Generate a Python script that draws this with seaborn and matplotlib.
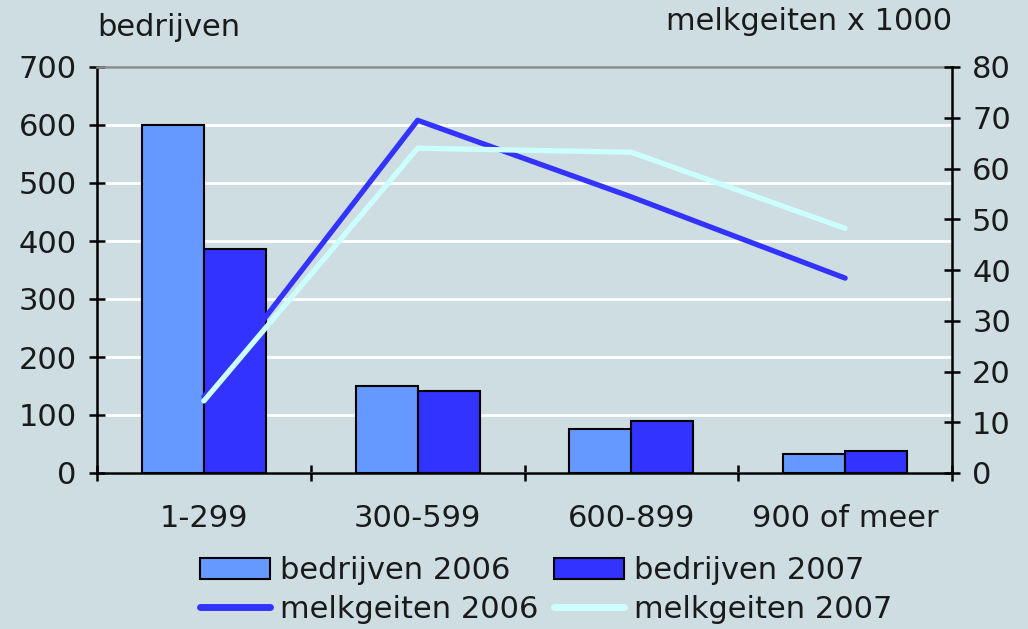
import matplotlib
matplotlib.use("Agg")
import matplotlib.pyplot as plt
import seaborn as sns
import pandas as pd
import numpy as np
from matplotlib.patches import Patch
from matplotlib.lines import Line2D

categories = ["1-299", "300-599", "600-899", "900 of meer"]
bedrijven_2006 = [600, 150, 76, 33]
bedrijven_2007 = [387, 141, 90, 38]
melkgeiten_2006 = [15.0, 69.5, 54.4, 38.4]
melkgeiten_2007 = [14.2, 64.0, 63.2, 48.2]
left_ticks = [0, 100, 200, 300, 400, 500, 600, 700]
right_ticks = [0, 10, 20, 30, 40, 50, 60, 70, 80]

BG = "#cddde2"
C_LIGHT = "#6699ff"
C_DARK = "#3333ff"
C_CYAN = "#ccffff"
TXT = "#1a1a1a"
FS = 22

sns.set_theme(style="white")
plt.rcParams["font.family"] = ["DejaVu Sans"]

bars = pd.DataFrame({
    "cat": categories * 2,
    "val": bedrijven_2006 + bedrijven_2007,
    "serie": ["bedrijven 2006"] * 4 + ["bedrijven 2007"] * 4,
})
pos = list(range(len(categories)))
lines = pd.DataFrame({
    "pos": pos * 2,
    "val": melkgeiten_2006 + melkgeiten_2007,
    "serie": ["melkgeiten 2006"] * 4 + ["melkgeiten 2007"] * 4,
})

fig = plt.figure(figsize=(10.28, 6.29), dpi=100, facecolor=BG)
ax = fig.add_axes([97 / 1028, 1 - 473 / 629, (952 - 97) / 1028, (473 - 67) / 629])
ax.set_facecolor(BG)

sns.barplot(data=bars, x="cat", y="val", hue="serie", order=categories,
            palette={"bedrijven 2006": C_LIGHT, "bedrijven 2007": C_DARK},
            width=0.58, gap=0, edgecolor="black", linewidth=1.5,
            saturation=1, ax=ax, legend=False, zorder=2)
ax.set_ylim(0, 700)
ax.set_xlim(-0.5, len(categories) - 0.5)
ax.set_yticks(left_ticks)
ax.grid(axis="y", color="white", linewidth=2, zorder=0)
ax.grid(axis="x", visible=False)
ax.set_axisbelow(True)
ax.set_xlabel("")
ax.set_ylabel("")

ax2 = ax.twinx()
sns.lineplot(data=lines, x="pos", y="val", hue="serie",
             palette={"melkgeiten 2006": C_DARK, "melkgeiten 2007": C_CYAN},
             linewidth=3.8, ax=ax2, legend=False, sort=False)
ax2.set_ylim(0, 80)
ax2.set_yticks(right_ticks)
ax2.set_xlim(-0.5, len(categories) - 0.5)
ax2.set_xlabel("")
ax2.set_ylabel("")
ax2.grid(False)

for a in (ax, ax2):
    for s in a.spines.values():
        s.set_visible(False)
ax.spines["left"].set_visible(True)
ax.spines["left"].set_color("black")
ax.spines["left"].set_linewidth(1.8)
ax.spines["bottom"].set_visible(True)
ax.spines["bottom"].set_color("black")
ax.spines["bottom"].set_linewidth(1.8)
ax.spines["top"].set_visible(True)
ax.spines["top"].set_color("#8a8a8a")
ax.spines["top"].set_linewidth(1.8)
ax2.spines["right"].set_visible(True)
ax2.spines["right"].set_color("black")
ax2.spines["right"].set_linewidth(1.8)

ax.tick_params(axis="y", direction="inout", length=11, width=1.8, colors="black",
               labelsize=FS, pad=9, left=True, labelcolor=TXT)
ax2.tick_params(axis="y", direction="inout", length=11, width=1.8, colors="black",
                labelsize=FS, pad=9, right=True, labelcolor=TXT)
ax.set_xticks(pos)
ax.set_xticklabels(categories)
ax.tick_params(axis="x", length=0, labelsize=FS, pad=22, labelcolor=TXT)
ax.set_xticks(np.arange(-0.5, len(categories), 1.0), minor=True)
ax.tick_params(axis="x", which="minor", direction="inout", length=11, width=1.8,
               colors="black", bottom=True)

fig.text(97 / 1028, 1 - 28 / 629, "bedrijven", fontsize=FS, ha="left", va="center",
         color=TXT)
fig.text(952 / 1028, 1 - 22 / 629, "melkgeiten x 1000", fontsize=FS, ha="right",
         va="center", color=TXT)

handles = [
    Patch(facecolor=C_LIGHT, edgecolor="black", linewidth=1.5, label="bedrijven 2006"),
    Line2D([], [], color=C_DARK, linewidth=5, label="melkgeiten 2006"),
    Patch(facecolor=C_DARK, edgecolor="black", linewidth=1.5, label="bedrijven 2007"),
    Line2D([], [], color=C_CYAN, linewidth=5, label="melkgeiten 2007"),
]
fig.legend(handles=handles, ncol=2, loc="center", bbox_to_anchor=(546 / 1028, 1 - 590 / 629),
           frameon=False, fontsize=FS, handlelength=2.3, handleheight=0.65,
           handletextpad=0.33, columnspacing=0.5, labelspacing=0.3, labelcolor=TXT)

fig.savefig("out.png", dpi=100, facecolor=BG)
